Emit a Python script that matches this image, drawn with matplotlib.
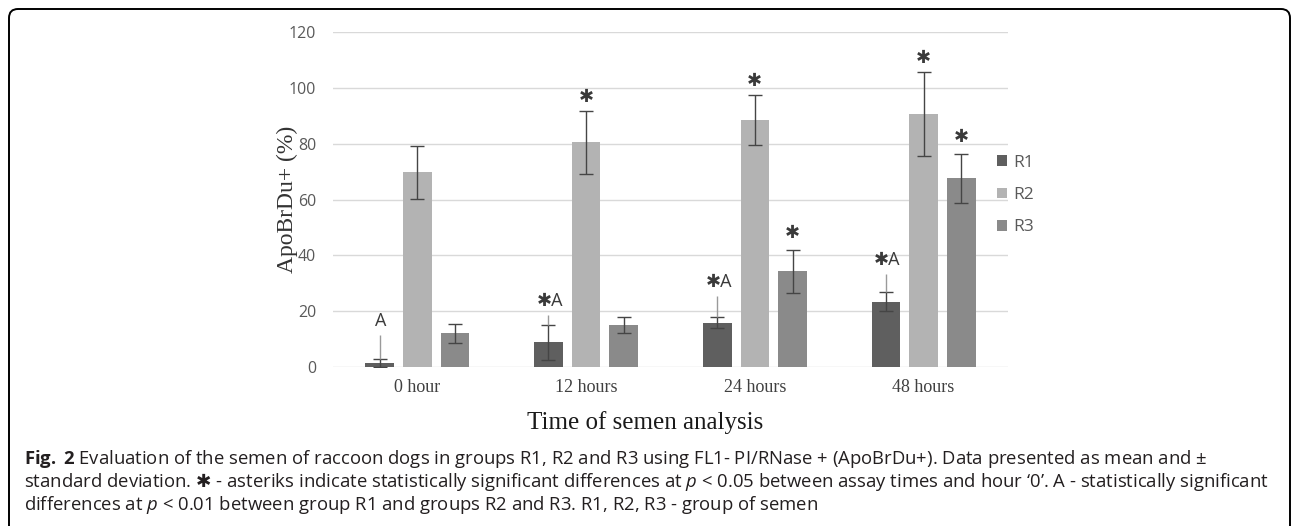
import matplotlib
matplotlib.use('Agg')
import matplotlib.pyplot as plt
import matplotlib.patches as mpatches
from matplotlib.transforms import IdentityTransform
import numpy as np

# data
times = ['0 hour', '12 hours', '24 hours', '48 hours']
groups = ['R1', 'R2', 'R3']
r1_mean = [1.5, 8.8, 15.9, 23.4]
r1_sd = [1.4, 6.2, 2.1, 3.3]
r2_mean = [69.8, 80.5, 88.5, 90.7]
r2_sd = [9.5, 11.3, 8.8, 15.0]
r3_mean = [12.1, 15.1, 34.3, 67.6]
r3_sd = [3.4, 2.9, 7.7, 8.8]
# thin leader line above the R1 error bars, up to the label
r1_lead_top = [11.5, 18.6, 25.4, 33.3]

r1_marks = ['A', '\u2731A', '\u2731A', '\u2731A']
r2_marks = ['', '\u2731', '\u2731', '\u2731']
r3_marks = ['', '', '\u2731', '\u2731']

colors = ['#5f5f5f', '#b3b3b3', '#8a8a8a']

plt.rcParams['mathtext.fontset'] = 'custom'
plt.rcParams['mathtext.rm'] = 'Open Sans'
plt.rcParams['mathtext.it'] = 'Open Sans:italic'
plt.rcParams['mathtext.bf'] = 'Open Sans:bold'
plt.rcParams['mathtext.sf'] = 'DejaVu Sans'

W, H = 1292, 526
fig = plt.figure(figsize=(W / 100, H / 100), dpi=100)
ax = fig.add_axes([333 / W, 1 - 367 / H, 675 / W, 335 / H])

x = np.arange(len(times))
step = 0.223
width = 0.17
means = [r1_mean, r2_mean, r3_mean]
sds = [r1_sd, r2_sd, r3_sd]
for i, (m, s) in enumerate(zip(means, sds)):
    xs = x + (i - 1) * step
    ax.bar(xs, m, width, color=colors[i], label=groups[i], zorder=2)
    ax.errorbar(xs, m, yerr=s, fmt='none', ecolor='#454545', elinewidth=1,
                capsize=5, capthick=1, zorder=3)

# leader lines for R1
r1_x = x - step
r1_top = np.array(r1_mean) + np.array(r1_sd)
ax.vlines(r1_x, r1_top, r1_lead_top, color='#9a9a9a', lw=1, zorder=3)

mark_font = dict(fontsize=13, color='#3a3a3a', family=['Open Sans', 'DejaVu Sans'],
                 ha='center', va='center', textcoords='offset points')
for i in range(len(times)):
    if r1_marks[i]:
        ax.annotate(r1_marks[i], (r1_x[i], r1_lead_top[i]), xytext=(1, 10), **mark_font)
    if r2_marks[i]:
        ax.annotate(r2_marks[i], (x[i], r2_mean[i] + r2_sd[i]), xytext=(0, 10), **mark_font)
    if r3_marks[i]:
        ax.annotate(r3_marks[i], (x[i] + step, r3_mean[i] + r3_sd[i]), xytext=(0, 12), **mark_font)

ax.set_xlim(-0.5, len(times) - 0.5)
ax.set_ylim(0, 120)
ax.set_yticks(range(0, 121, 20))
ax.set_xticks(x)
ax.set_xticklabels(times, fontfamily='Liberation Serif', fontsize=13, color='#404040')
for lab in ax.get_yticklabels():
    lab.set_fontfamily('Open Sans')
ax.tick_params(axis='y', length=0, pad=12, labelsize=11.5, labelcolor='#595959')
ax.tick_params(axis='x', length=0, pad=9)
ax.grid(axis='y', color='#d9d9d9', lw=1, zorder=0)
ax.set_axisbelow(True)
for sp in ax.spines.values():
    sp.set_visible(False)

leg = ax.legend(loc='center left', bbox_to_anchor=((997 - 333) / 675, (367 - 195) / 335),
                frameon=False, borderpad=0, borderaxespad=0, handlelength=0.55,
                handleheight=0.55, handletextpad=0.4, labelspacing=0.95,
                prop={'family': 'Open Sans', 'size': 12.5})
for t in leg.get_texts():
    t.set_color('#595959')

fig.text(287 / W, 1 - 199 / H, 'ApoBrDu+ (%)', rotation=90, ha='center', va='center',
         fontfamily='Liberation Serif', fontsize=17, color='#333333')
fig.text(645 / W, 1 - 423 / H, 'Time of semen analysis', ha='center', va='center',
         fontfamily='Liberation Serif', fontsize=18, color='#1a1a1a')

# rounded frame round the figure
frame = mpatches.FancyBboxPatch((9, -20), 1281, 526 - 9 + 20,
                                boxstyle='round,pad=0,rounding_size=9',
                                transform=IdentityTransform(), fill=False,
                                ec='black', lw=1.4)
fig.patches.append(frame)

caption = [
    r'$\mathbf{Fig.\;2}$ Evaluation of the semen of raccoon dogs in groups R1, R2 and R3 '
    r'using FL1- PI/RNase + (ApoBrDu+). Data presented as mean and ±',
    'standard deviation. $\\mathsf{\u2731}$ - asteriks indicate statistically significant '
    'differences at $\\mathit{p}$ < 0.05 between assay times and hour \u20180\u2019. '
    'A - statistically significant',
    r'differences at $\mathit{p}$ < 0.01 between group R1 and groups R2 and R3. '
    r'R1, R2, R3 - group of semen',
]
baselines = [464, 487, 510]
for line, b in zip(caption, baselines):
    fig.text(24 / W, 1 - b / H, line, ha='left', va='baseline', fontfamily='Open Sans',
             fontsize=13.3, color='#231f20')

fig.savefig('out.png', dpi=100)
